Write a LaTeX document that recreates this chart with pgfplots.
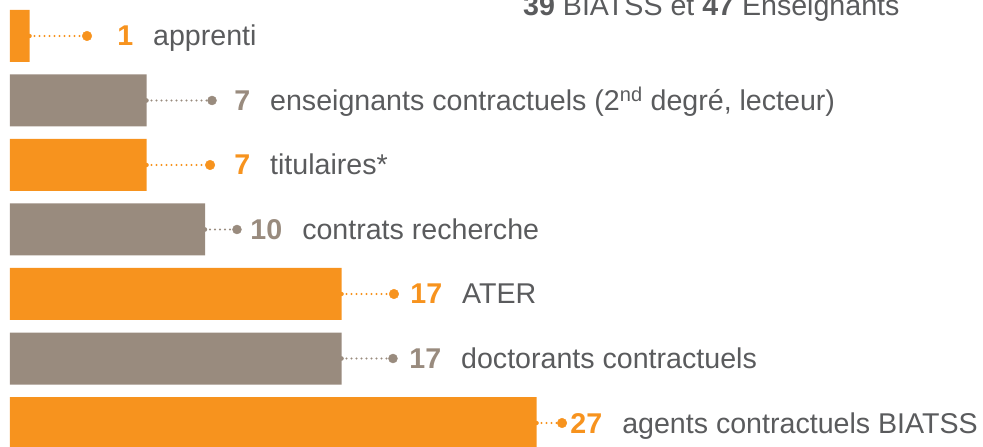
\documentclass[border=0pt]{standalone}
\usepackage{pgfplots}
\pgfplotsset{compat=1.18}
\usepackage{pgfplotstable}
\usepackage{fontspec}
\setmainfont{Liberation Sans}
\definecolor{orng}{HTML}{F7931E}
\definecolor{gry}{HTML}{998B7E}
\definecolor{txt}{HTML}{5A5B5D}

\pgfplotstableread[col sep=semicolon,row sep=\\]{y;v;dot;num;label\\
6;1;3.95;5.49;apprenti\\
4;7;10.26;11.49;titulaires*\\
2;17;19.69;20.52;ATER\\
0;27;28.31;28.73;agents contractuels BIATSS\\}\orangedata

\pgfplotstableread[col sep=semicolon,row sep=\\]{y;v;dot;num;label\\
5;7;10.36;11.49;enseignants contractuels (2\textsuperscript{nd} degré, lecteur)\\
3;10;11.64;12.32;contrats recherche\\
1;17;19.64;20.47;doctorants contractuels\\}\greydata

\begin{document}
\begin{tikzpicture}
\clip (0,0) rectangle (983bp,447bp);
\begin{axis}[
  at={(0,0)}, anchor=south west,
  scale only axis, width=983bp, height=447bp,
  xmin=-0.5128, xmax=49.897,
  ymin=-0.372, ymax=6.558,
  hide axis,
  every node near coord/.append style={font=\fontsize{28.6bp}{34bp}\selectfont, anchor=base west, inner sep=0pt, yshift=-10bp},
]
% bars
\addplot[xbar, bar width=52bp, bar shift=0pt, fill=orng, draw=none] table[x=v,y=y]{\orangedata};
\addplot[xbar, bar width=52bp, bar shift=0pt, fill=gry, draw=none] table[x=v,y=y]{\greydata};
% dotted leaders
\addplot[orng, only marks, mark=none, error bars/.cd, x dir=plus, x explicit, error mark=none,
  error bar style={draw=orng, line width=2.2bp, line cap=round, dash pattern=on 0pt off 5bp}]
  table[x=v, y=y, x error expr=\thisrow{dot}-\thisrow{v}]{\orangedata};
\addplot[gry, only marks, mark=none, error bars/.cd, x dir=plus, x explicit, error mark=none,
  error bar style={draw=gry, line width=2.2bp, line cap=round, dash pattern=on 0pt off 5bp}]
  table[x=v, y=y, x error expr=\thisrow{dot}-\thisrow{v}]{\greydata};
% end dots
\addplot[only marks, mark=*, mark size=4.8bp, color=orng] table[x=dot,y=y]{\orangedata};
\addplot[only marks, mark=*, mark size=4.5bp, color=gry] table[x=dot,y=y]{\greydata};
% labels
\addplot[only marks, mark=none, point meta=explicit symbolic,
  visualization depends on={\thisrow{v} \as \val},
  nodes near coords={\textcolor{orng}{\textbf{\pgfmathprintnumber[fixed,precision=0,assume math mode=true]{\val}}}\hspace{20bp}\textcolor{txt}{\pgfplotspointmeta}}]
  table[x=num, y=y, meta=label]{\orangedata};
\addplot[only marks, mark=none, point meta=explicit symbolic,
  visualization depends on={\thisrow{v} \as \val},
  nodes near coords={\textcolor{gry}{\textbf{\pgfmathprintnumber[fixed,precision=0,assume math mode=true]{\val}}}\hspace{20bp}\textcolor{txt}{\pgfplotspointmeta}}]
  table[x=num, y=y, meta=label]{\greydata};
\end{axis}
\node[anchor=base west, inner sep=0pt, text=txt, font=\fontsize{28.6bp}{34bp}\selectfont] at (523bp,431bp) {\textbf{39} BIATSS et \textbf{47} Enseignants};
\end{tikzpicture}
\end{document}
